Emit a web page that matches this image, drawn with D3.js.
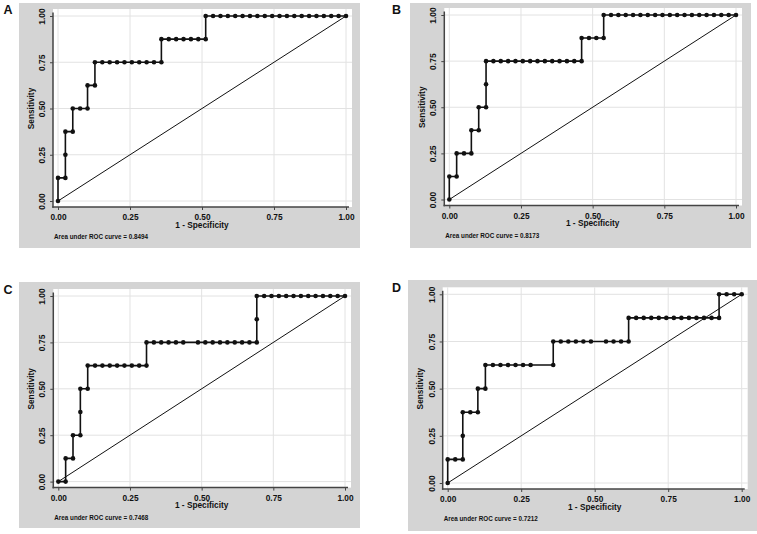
<!DOCTYPE html>
<html>
<head>
<meta charset="utf-8">
<script src="https://cdn.jsdelivr.net/npm/d3@7"></script>
<style>
body { margin: 0; background: #fff; }
text { font-family: "Liberation Sans", Arial, sans-serif; fill: #111; }
</style>
</head>
<body>
<script>
// Four ROC curves, 8 positives and 39 negatives in each panel.
// Points are stored as counts (false positives, true positives).
var W = 757, H = 534;
var nNeg = 39, nPos = 8;
var ticks = [0, 0.25, 0.5, 0.75, 1];
var panelNames = ["A", "B", "C", "D"];
var aucValues = ["0.8494", "0.8173", "0.7468", "0.7212"];

var fpA = [0,0,1,1,1,2,2,3,4,4,5,5,6,7,8,9,10,11,12,13,14,14,15,16,17,18,
    19,20,20,21,22,23,24,25,26,27,28,29,30,31,32,33,34,35,36,37,38,39];
var tpA = [0,1,1,2,3,3,4,4,4,5,5,6,6,6,6,6,6,6,6,6,6,7,7,7,7,7,
    7,7,8,8,8,8,8,8,8,8,8,8,8,8,8,8,8,8,8,8,8,8];

var fpB = [0,0,1,1,2,3,3,4,4,5,5,5,6,7,8,9,10,11,12,13,14,15,16,17,18,18,
    19,20,21,21,22,23,24,25,26,27,28,29,30,31,32,33,34,35,36,37,38,39];
var tpB = [0,1,1,2,2,2,3,3,4,4,5,6,6,6,6,6,6,6,6,6,6,6,6,6,6,7,
    7,7,7,8,8,8,8,8,8,8,8,8,8,8,8,8,8,8,8,8,8,8];

var fpC = [0,1,1,2,2,3,3,3,4,4,5,6,7,8,9,10,11,12,12,13,14,15,16,17,
    19,20,21,22,23,24,25,26,27,27,27,28,29,30,31,32,33,34,35,36,37,38,39];
var tpC = [0,0,1,1,2,2,3,4,4,5,5,5,5,5,5,5,5,5,6,6,6,6,6,6,
    6,6,6,6,6,6,6,6,6,7,8,8,8,8,8,8,8,8,8,8,8,8,8];

var fpD = [0,0,1,2,2,2,3,4,4,5,5,6,7,8,9,10,11,14,14,15,16,17,18,19,
    21,22,23,24,24,25,26,27,28,29,30,31,32,33,34,35,36,36,37,38,39];
var tpD = [0,1,1,1,2,3,3,3,4,4,5,5,5,5,5,5,5,5,6,6,6,6,6,6,
    6,6,6,6,7,7,7,7,7,7,7,7,7,7,7,7,7,8,8,8,8];

var fpList = [fpA, fpB, fpC, fpD];
var tpList = [tpA, tpB, tpC, tpD];

// pixel layout of each panel: grey box, data range (0 and 1), letter spot
var layout = [
    {bg: [19, 3, 360, 248], xr: [58, 346], yr: [201, 16], letter: [3.5, 13.5]},
    {bg: [410, 3, 751, 248], xr: [449.3, 736], yr: [199.5, 15], letter: [392, 13.5]},
    {bg: [19, 282, 360, 528], xr: [58.3, 345], yr: [481.6, 296], letter: [3.5, 294]},
    {bg: [408, 280, 757, 531], xr: [447.7, 741.7], yr: [483, 294.3], letter: [392, 292]}
];

var svg = d3.select("body").append("svg")
    .attr("width", W)
    .attr("height", H);

svg.append("rect").attr("width", W).attr("height", H).attr("fill", "#fff");

layout.forEach(function(L, k) {
    var x = d3.scaleLinear().domain([0, 1]).range(L.xr);
    var y = d3.scaleLinear().domain([0, 1]).range(L.yr);
    var axX = L.xr[0] - 5, axY = L.yr[0] + 6;
    var right = L.xr[1] + 6, top = L.yr[1] - 7;

    var g = svg.append("g");

    // grey outer box and white plot region
    g.append("rect")
        .attr("x", L.bg[0]).attr("y", L.bg[1])
        .attr("width", L.bg[2] - L.bg[0]).attr("height", L.bg[3] - L.bg[1])
        .attr("fill", "#d4d4d4");
    g.append("rect")
        .attr("x", axX).attr("y", top)
        .attr("width", right - axX).attr("height", axY - top)
        .attr("fill", "#fff");

    // grid
    g.selectAll(".gx").data(ticks).enter().append("line")
        .attr("x1", function(d) { return x(d); })
        .attr("x2", function(d) { return x(d); })
        .attr("y1", top).attr("y2", axY)
        .attr("stroke", "#e2e2e2").attr("stroke-width", 1);
    g.selectAll(".gy").data(ticks).enter().append("line")
        .attr("y1", function(d) { return y(d); })
        .attr("y2", function(d) { return y(d); })
        .attr("x1", axX).attr("x2", right)
        .attr("stroke", "#e2e2e2").attr("stroke-width", 1);

    // axes
    var yAxis = d3.axisLeft(y).tickValues(ticks)
        .tickFormat(d3.format(".2f")).tickSize(3).tickSizeOuter(0);
    var xAxis = d3.axisBottom(x).tickValues(ticks)
        .tickFormat(d3.format(".2f")).tickSize(3).tickSizeOuter(0);

    var ya = g.append("g")
        .attr("transform", "translate(" + axX + ",0)")
        .call(yAxis);
    ya.select(".domain").remove();
    ya.selectAll("line").attr("stroke", "#444");
    ya.selectAll("text")
        .attr("transform", "rotate(-90)")
        .attr("x", 0).attr("y", -8).attr("dy", 0)
        .attr("text-anchor", "middle")
        .attr("font-size", "8.5px").attr("font-weight", "bold")
        .attr("font-family", "Liberation Sans, Arial, sans-serif")
        .attr("fill", "#111");

    var xa = g.append("g")
        .attr("transform", "translate(0," + axY + ")")
        .call(xAxis);
    xa.select(".domain").remove();
    xa.selectAll("line").attr("stroke", "#444");
    xa.selectAll("text")
        .attr("y", 13).attr("dy", 0)
        .attr("font-size", "8.3px").attr("font-weight", "bold")
        .attr("font-family", "Liberation Sans, Arial, sans-serif")
        .attr("fill", "#111");

    g.append("line")
        .attr("x1", axX).attr("x2", axX)
        .attr("y1", L.yr[1] - 3.5).attr("y2", axY + 0.75)
        .attr("stroke", "#444").attr("stroke-width", 1.5);
    g.append("line")
        .attr("x1", axX - 0.75).attr("x2", L.xr[1] + 3)
        .attr("y1", axY).attr("y2", axY)
        .attr("stroke", "#444").attr("stroke-width", 1.5);

    // reference diagonal
    g.append("line")
        .attr("x1", x(0)).attr("y1", y(0))
        .attr("x2", x(1)).attr("y2", y(1))
        .attr("stroke", "#111").attr("stroke-width", 1);

    // ROC curve and points
    var pts = fpList[k].map(function(f, i) {
        return [f / nNeg, tpList[k][i] / nPos];
    });
    var line = d3.line()
        .x(function(d) { return x(d[0]); })
        .y(function(d) { return y(d[1]); });
    g.append("path")
        .attr("d", line(pts))
        .attr("fill", "none")
        .attr("stroke", "#111")
        .attr("stroke-width", 1.6);
    g.selectAll(".pt").data(pts).enter().append("circle")
        .attr("cx", function(d) { return x(d[0]); })
        .attr("cy", function(d) { return y(d[1]); })
        .attr("r", 2.3)
        .attr("fill", "#111");

    // titles
    g.append("text")
        .attr("transform", "translate(" + (axX - 19.5) + "," + y(0.5) + ") rotate(-90)")
        .attr("text-anchor", "middle")
        .attr("font-size", "8.3px").attr("font-weight", "bold")
        .text("Sensitivity");
    g.append("text")
        .attr("x", x(0.5)).attr("y", axY + 20.8)
        .attr("text-anchor", "middle")
        .attr("font-size", "8.3px").attr("font-weight", "bold")
        .text("1 - Specificity");
    g.append("text")
        .attr("x", axX + 1).attr("y", L.yr[0] + 38)
        .attr("font-size", "6.3px").attr("font-weight", "bold")
        .text("Area under ROC curve = " + aucValues[k]);

    // panel letter
    svg.append("text")
        .attr("x", L.letter[0]).attr("y", L.letter[1])
        .attr("font-size", "12.5px").attr("font-weight", "bold")
        .text(panelNames[k]);
});
</script>
</body>
</html>
